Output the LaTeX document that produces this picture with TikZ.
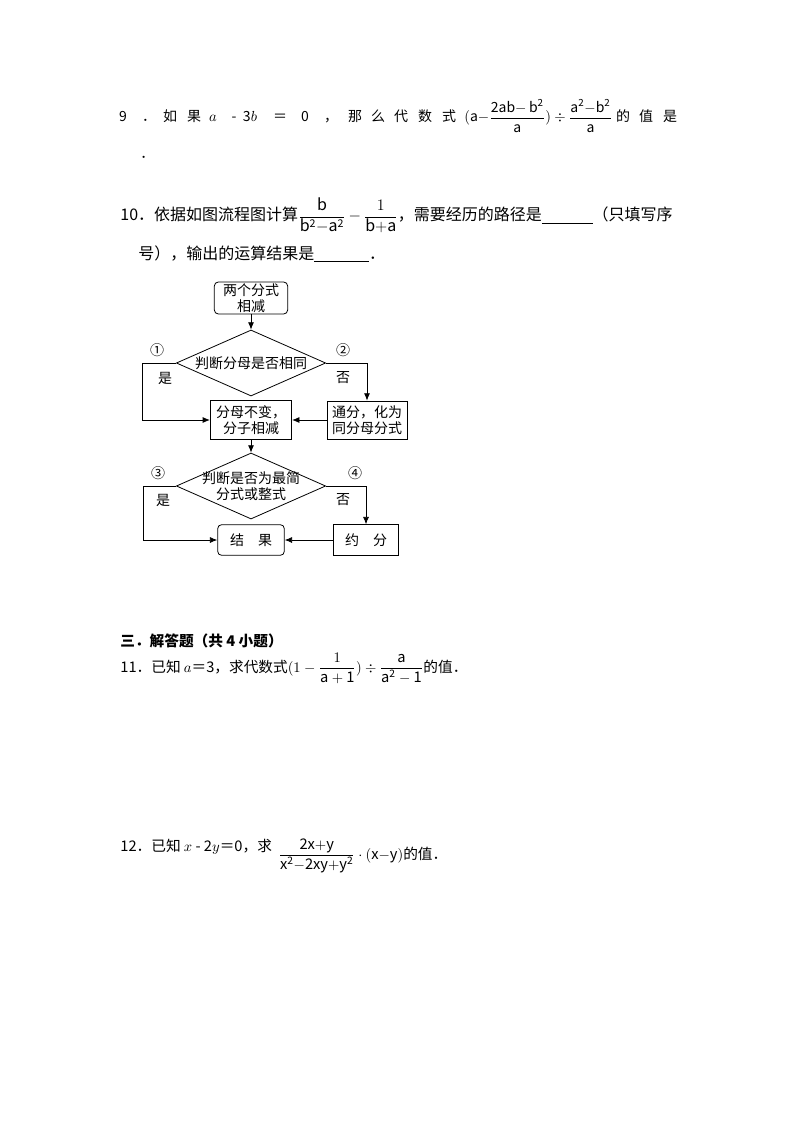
\documentclass[tikz,border=0pt]{standalone}
\usepackage{amsmath}
\usepackage{fontspec}
\setmainfont{Noto Sans CJK SC}
\usetikzlibrary{shapes.geometric,arrows.meta}

\begin{document}
\begin{tikzpicture}[x=0.75pt,y=-0.75pt,>={Latex[length=5.5pt,width=4.5pt]},line width=0.6pt,
  every node/.style={inner sep=0pt,font=\fontsize{10.5}{12}\selectfont},
  big/.style={anchor=base west,font=\fontsize{12}{14}\selectfont},
  mid/.style={anchor=base west,font=\fontsize{11}{13}\selectfont},
  box/.style={draw,align=center,minimum width=61pt,minimum height=29pt},
  rbox/.style={box,rounded corners=3pt},
  dec/.style={draw,diamond,aspect=2.25,align=center,minimum width=112pt,minimum height=49.5pt}]
\useasboundingbox (0,0) rectangle (794,1123);

% question 9
\foreach \t/\x [count=\i] in {9/123,．/149,如/170,果/194,$a$/213,-/234,3$b$/250,＝/280,0/305,，/331,
    那/355,么/378,代/401,数/425,式/449,的/623,值/646,是/670}
  \node[anchor=base] (w\i) at (\x,122) {\t};
\node[anchor=base west] (e9) at (464,122) {$(\mathrm{a}{-}\dfrac{\mathrm{2ab{-}\,b^2}}{\mathrm{a}})\div\dfrac{\mathrm{a^2{-}b^2}}{\mathrm{a}}$};
\node[anchor=base west] (dot9) at (140,159) {．};

% question 10
\node[big] (q10) at (120,221) {10．依据如图流程图计算$\dfrac{\mathrm{b}}{\mathrm{b^2{-}a^2}}\,{-}\,\dfrac{1}{\mathrm{b{+}a}}$，需要经历的路径是\underline{\hspace{38pt}}（只填写序};
\node[big] (q10b) at (138,259) {号），输出的运算结果是\underline{\hspace{41pt}}．};

% flow chart
\node[rbox,minimum width=55pt,minimum height=24pt] (start) at (251,298) {两个分式\\相减};
\node[dec] (d1) at (251,363) {判断分母是否相同};
\node[box] (same) at (251,420) {分母不变，\\分子相减};
\node[box,minimum width=60pt,minimum height=28.5pt] (comm) at (367,420) {通分，化为\\同分母分式};
\node[dec,inner xsep=-12pt] (d2) at (251,486) {判断是否为最简\\分式或整式};
\node[rbox,minimum width=50pt,minimum height=23pt] (res) at (251,540) {结\quad 果};
\node[box,minimum width=49pt,minimum height=23pt] (red) at (366,540) {约\quad 分};

\node (n1) at (157,350) {①};
\node (yes1) at (165,378) {是};
\node (n2) at (343,350) {②};
\node (no1) at (343,378) {否};
\node (n3) at (158,473) {③};
\node (yes2) at (163,500) {是};
\node (n4) at (355,473) {④};
\node (no2) at (343,500) {否};

\draw[->] (start) -- (d1);
\draw[->] (d1.west) -- ++(-34,0) |- (same);
\draw[->] (d1.east) -| (comm);
\draw[->] (comm) -- (same);
\draw[->] (same) -- (d2);
\draw[->] (d2.west) -- ++(-33,0) |- (res);
\draw[->] (d2.east) -| (red);
\draw[->] (red) -- (res);

% part three
\node[mid,font=\fontsize{11}{13}\selectfont\bfseries] (sec3) at (120,646) {三．解答题（共 4 小题）};
\node[mid] (q11) at (120,672) {11．已知 $a$＝3，求代数式$(1-\dfrac{1}{\mathrm{a+1}})\div\dfrac{\mathrm{a}}{\mathrm{a^2-1}}$的值．};
\node[mid] (q12) at (120,851) {12．已知 $x$ - 2$y$＝0，求};
\node[mid] (q12b) at (278,859) {$\dfrac{\mathrm{2x{+}y}}{\mathrm{x^2{-}2xy{+}y^2}}\cdot(\mathrm{x{-}y})$的值．};
\end{tikzpicture}
\end{document}
